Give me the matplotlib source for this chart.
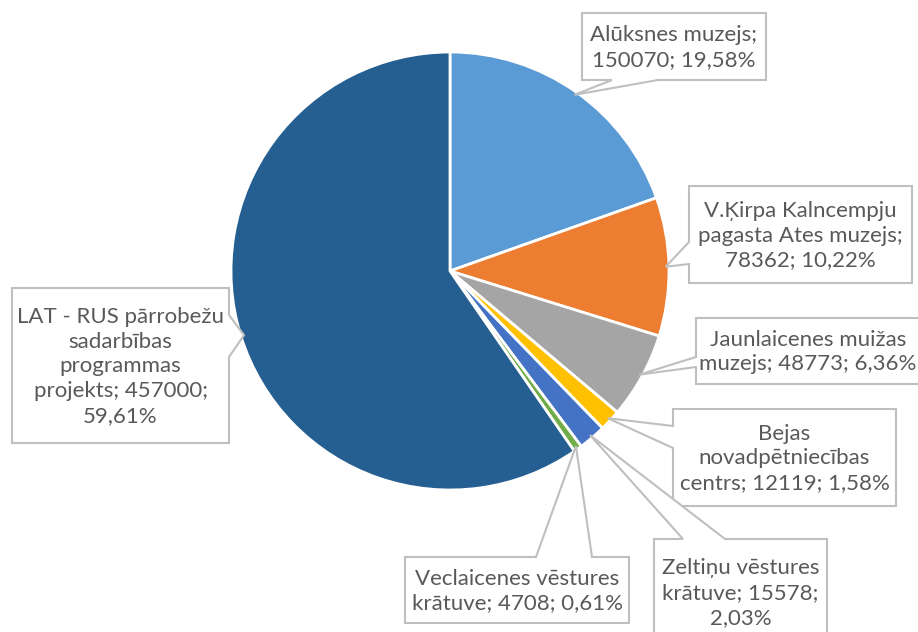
import numpy as np
import matplotlib
matplotlib.use("Agg")
import matplotlib.pyplot as plt
from matplotlib.patches import Polygon

plt.rcParams['font.family'] = ['Lato', 'DejaVu Sans']

names = ['Alūksnes muzejs', 'V.Ķirpa Kalncempju pagasta Ates muzejs',
         'Jaunlaicenes muižas muzejs', 'Bejas novadpētniecības centrs',
         'Zeltiņu vēstures krātuve', 'Veclaicenes vēstures krātuve',
         'LAT - RUS pārrobežu sadarbības programmas projekts']
values = [150070, 78362, 48773, 12119, 15578, 4708, 457000]
percents = ['19,58%', '10,22%', '6,36%', '1,58%', '2,03%', '0,61%', '59,61%']
colors = ['#5B9BD5', '#ED7D31', '#A5A5A5', '#FFC000', '#4472C4', '#70AD47', '#255E91']

# label text as wrapped in the boxes
label_lines = [
    ['Alūksnes muzejs;', '150070; 19,58%'],
    ['V.Ķirpa Kalncempju', 'pagasta Ates muzejs;', '78362; 10,22%'],
    ['Jaunlaicenes muižas', 'muzejs; 48773; 6,36%'],
    ['Bejas', 'novadpētniecības', 'centrs; 12119; 1,58%'],
    ['Zeltiņu vēstures', 'krātuve; 15578;', '2,03%'],
    ['Veclaicenes vēstures', 'krātuve; 4708; 0,61%'],
    ['LAT - RUS pārrobežu', 'sadarbības', 'programmas', 'projekts; 457000;', '59,61%'],
]

# callout boxes in pixel coords (x0, y0, x1, y1), side of the pointer, pointer base
boxes = [
    ((582, 13, 766, 80), 'bottom', (612, 658)),
    ((689, 186, 912, 283), 'left', (242, 264)),
    ((696, 318, 920, 384), 'left', (357, 367)),
    ((673, 409, 896, 506), 'left', (426, 448)),
    ((654, 539, 827, 645), 'top', (683, 725)),
    ((405, 557, 629, 623), 'top', (536, 592)),
    ((12, 288, 229, 443), 'right', (315, 357)),
]

cx, cy, r = 450, 271, 219

fig = plt.figure(figsize=(9.18, 6.32), dpi=100)
ax = fig.add_axes([0, 0, 1, 1])
wedges, _ = ax.pie(values, colors=colors, startangle=-90, counterclock=True,
                   center=(cx, cy), radius=r,
                   wedgeprops=dict(edgecolor='white', linewidth=2))
ax.set_xlim(0, 918)
ax.set_ylim(632, 0)
ax.set_aspect('equal')
ax.axis('off')


def callout(box, side, base, tip):
    x0, y0, x1, y1 = box
    b0, b1 = base
    pts = [(x0, y0)]
    if side == 'top':
        pts += [(b0, y0), tip, (b1, y0)]
    pts.append((x1, y0))
    if side == 'right':
        pts += [(x1, b0), tip, (x1, b1)]
    pts.append((x1, y1))
    if side == 'bottom':
        pts += [(b1, y1), tip, (b0, y1)]
    pts.append((x0, y1))
    if side == 'left':
        pts += [(x0, b1), tip, (x0, b0)]
    return Polygon(pts, closed=True, facecolor='white', edgecolor='#BFBFBF',
                   linewidth=1.5, zorder=3)


for w, lines, (box, side, base) in zip(wedges, label_lines, boxes):
    mid = np.deg2rad((w.theta1 + w.theta2) / 2)
    tip = (cx + 0.985 * r * np.cos(mid), cy + 0.985 * r * np.sin(mid))
    ax.add_patch(callout(box, side, base, tip))
    x0, y0, x1, y1 = box
    ax.text((x0 + x1) / 2, (y0 + y1) / 2 + 1, '\n'.join(lines), ha='center', va='center',
            fontsize=16, color='#595959', linespacing=1.3, zorder=4)

fig.savefig('out.png', dpi=100)
